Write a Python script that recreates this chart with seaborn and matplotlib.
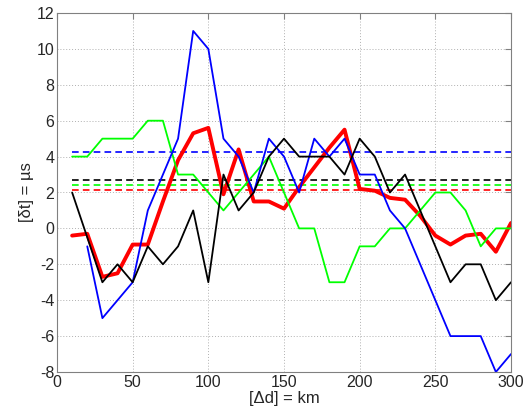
import numpy as np
import pandas as pd
import matplotlib
matplotlib.use("Agg")
import matplotlib.pyplot as plt
import seaborn as sns

x_km = list(range(10, 301, 10))
x_blue = list(range(20, 301, 10))

black = [2, -0.5, -3, -2, -3, -1, -2, -1, 1, -3, 3, 1, 2, 4, 5, 4, 4, 4, 3, 5,
         4, 2, 3, 1, -1, -3, -2, -2, -4, -3]
blue = [-1, -5, -4, -3, 1, 3, 5, 11, 10, 5, 4, 2, 5, 4, 2, 5, 4, 5, 3,
        3, 1, 0, -2, -4, -6, -6, -6, -8, -7]
green = [4, 4, 5, 5, 5, 6, 6, 3, 3, 2, 1, 2, 3, 4, 2, 0, 0, -3, -3, -1,
         -1, 0, 0, 1, 2, 2, 1, -1, 0, 0]
red = [-0.4, -0.3, -2.7, -2.5, -0.9, -0.9, 1.5, 3.8, 5.3, 5.6, 1.9, 4.4, 1.5, 1.5, 1.1,
       2.3, 3.4, 4.5, 5.5, 2.2, 2.1, 1.7, 1.6, 0.7, -0.4, -0.9, -0.4, -0.3, -1.3, 0.3]

mean_x = [10, 300]
mean_blue = 4.25
mean_black = 2.68
mean_green = 2.4
mean_red = 2.13

xticks = [0, 50, 100, 150, 200, 250, 300]
yticks = [-8, -6, -4, -2, 0, 2, 4, 6, 8, 10, 12]

sns.set_style("white")
plt.rcParams['font.family'] = ['Liberation Sans', 'DejaVu Sans']

fig = plt.figure(figsize=(5.25, 4.15), dpi=100)
ax = fig.add_axes([57/525, 1-372/415, (511-57)/525, (372-13)/415])

for val, col in [(mean_blue, (0, 0, 1)), (mean_black, 'black'),
                 (mean_green, (0, 1, 0)), (mean_red, (1, 0, 0))]:
    sns.lineplot(x=mean_x, y=[val, val], ax=ax, color=col, linewidth=1.2,
                 linestyle=(0, (4, 2.5)), estimator=None)

sns.lineplot(x=x_km, y=red, ax=ax, color=(1, 0, 0), linewidth=2.8, estimator=None)
sns.lineplot(x=x_km, y=green, ax=ax, color=(0, 1, 0), linewidth=1.3, estimator=None)
sns.lineplot(x=x_blue, y=blue, ax=ax, color=(0, 0, 1), linewidth=1.3, estimator=None)
sns.lineplot(x=x_km, y=black, ax=ax, color='black', linewidth=1.3, estimator=None)

ax.set_xlim(0, 300)
ax.set_ylim(-8, 12)
ax.set_xticks(xticks)
ax.set_yticks(yticks)
ax.set_xticklabels([str(t) for t in xticks])
ax.set_yticklabels([str(t) for t in yticks])
ax.grid(True, linestyle=(0, (1, 2)), color='#b0b0b0', linewidth=0.7)
ax.tick_params(direction='in', top=True, right=True, length=4, labelsize=11.5,
               color='#808080', pad=2)
for s in ax.spines.values():
    s.set_color('#808080')
    s.set_linewidth(0.8)
ax.set_xlabel("[Δd] = km", fontsize=12, labelpad=1)
ax.set_ylabel("[δt] = µs", fontsize=12, labelpad=2)

fig.savefig("out.png", dpi=100)
